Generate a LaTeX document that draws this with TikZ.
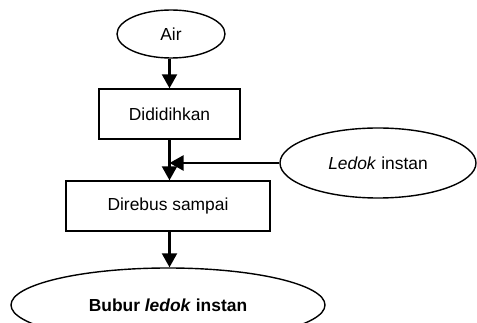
\documentclass[tikz,border=0pt]{standalone}
\usepackage{fontspec}
\setmainfont{Liberation Sans}
\usetikzlibrary{arrows.meta,shapes.geometric}
\definecolor{bbInk}{HTML}{000000}
\tikzset{
  bbBahan/.style={
    draw=bbInk,
    ellipse,
    line width=1.4pt,
    inner sep=0pt,
    text=bbInk,
    font=\fontsize{17.4}{20}\selectfont
  },
  bbProses/.style={
    draw=bbInk,
    rectangle,
    line width=1.4pt,
    inner sep=0pt,
    text=bbInk,
    font=\fontsize{17.4}{20}\selectfont
  },
  bbArrow/.style={
    -{Triangle[length=14pt,width=15pt]},
    line width=2.2pt,
    draw=bbInk
  }
}
\begin{document}
\begin{tikzpicture}[x=1pt,y=-1pt]
\useasboundingbox (0,0) rectangle (477,323);
\clip (0,0) rectangle (477,323);

% Bahan dan proses utama.
\node[bbBahan, minimum width=108pt, minimum height=48pt] (air) at (171,34)
  {Air};

\node[bbProses, minimum width=141pt, minimum height=50pt] (didih) at (169.5,114)
  {Dididihkan};
\draw[bbArrow] (air.south -| didih.north) -- (didih.north);

\node[bbProses, minimum width=204pt, minimum height=50pt] (rebus) at (168,206)
  {Direbus sampai};
\draw[bbArrow] (didih.south) -- (didih.south |- rebus.north);

\node[bbBahan, minimum width=196pt, minimum height=70pt] (ledok) at (378,163)
  {\textit{Ledok} instan};
\draw[bbArrow] (ledok.west) -- (ledok.west -| didih.south);

% Produk akhir.
\node[bbBahan, minimum width=314pt, minimum height=74pt] (bubur) at (168,305)
  {\textbf{Bubur \textit{ledok} instan}};
\draw[bbArrow] (didih.south |- rebus.south) -- (didih.south |- bubur.north);

\end{tikzpicture}
\end{document}
